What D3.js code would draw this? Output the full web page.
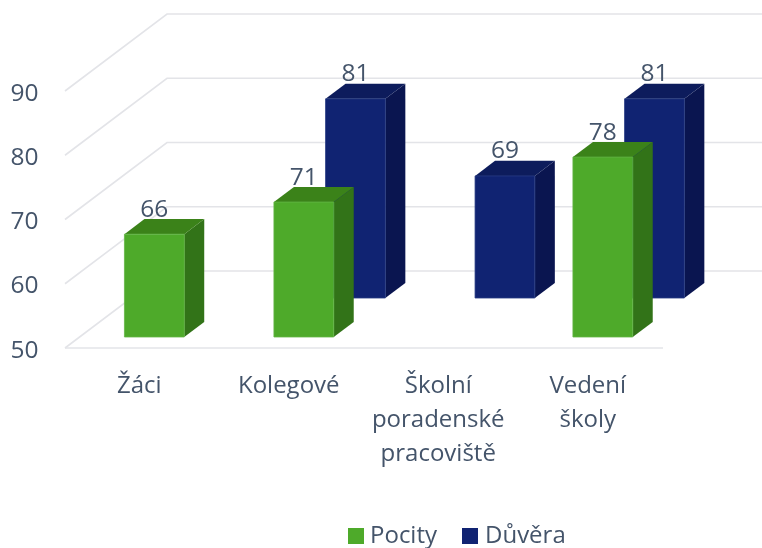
<!DOCTYPE html>
<html><head><meta charset="utf-8">
<style>html,body{margin:0;padding:0;background:#fff}svg{display:block;filter:blur(0.35px)}text{font-family:"Open Sans",sans-serif;fill:#44546a}</style>
<script src="https://cdn.jsdelivr.net/npm/d3@7/dist/d3.min.js"></script>
</head><body><svg id="c" width="762" height="548"></svg>
<script>
const categories = [["Žáci"],["Kolegové"],["Školní","poradenské","pracoviště"],["Vedení","školy"]];
const pocity = [66,71,null,78];
const duvera = [null,81,69,81];
const yTicks = [50,60,70,80,90];
const seriesNames = ["Pocity","Důvěra"];
const colors = {Pocity:{front:"#4eaa2a",top:"#3b8219",side:"#327318",edge:"#62b545"},Důvěra:{front:"#102372",top:"#0d1c5c",side:"#0a1550",edge:"#2a3d84"}};

const svg = d3.select("#c");
const x = d3.scaleBand().domain(d3.range(categories.length)).range([65,663]);
const y = d3.scaleLinear().domain([50,90]).range([348,91]);
const depthX = d3.scaleLinear().domain([0,1]).range([0,102]);
const depthY = d3.scaleLinear().domain([0,1]).range([0,-77]);
const P = (px,py,t)=>[px+depthX(t),py+depthY(t)];
const pts = a=>a.map(p=>p.join(",")).join(" ");

// walls
const grid = svg.append("g").attr("fill","none").attr("stroke","#e3e4e8").attr("stroke-width",1.6);
yTicks.forEach(v=>{
  const a=P(x.range()[0],y(v),0), b=P(x.range()[0],y(v),1), c=P(x.range()[1],y(v),1);
  grid.append("polyline").attr("points",pts([a,b,c]));
});
grid.append("line").attr("x1",x.range()[0]).attr("x2",x.range()[1]).attr("y1",y(50)).attr("y2",y(50));

// y labels
svg.append("g").selectAll("text").data(yTicks).join("text")
  .attr("x",38.5).attr("y",d=>y(d)+9.5).attr("text-anchor","end").attr("font-size",24.5).text(d=>d);

// bars: back series first
const bw = x.bandwidth()*0.4, inset = x.bandwidth()*0.3;
const series = [{name:"Důvěra",vals:duvera,t0:0.649},{name:"Pocity",vals:pocity,t0:0.143}];
const depth = 0.196;
const labels = [];
series.forEach(s=>{
  const col = colors[s.name], g = svg.append("g");
  s.vals.forEach((v,i)=>{
    if(v==null) return;
    const xl=x(i)+inset, xr=xl+bw, yb=y(50), yt=y(v);
    const a=P(xl,yt,s.t0), b=P(xr,yt,s.t0), c=P(xr,yb,s.t0), d=P(xl,yb,s.t0);
    const e=P(xl,yt,s.t0+depth), h=P(xr,yt,s.t0+depth), k=P(xr,yb,s.t0+depth);
    g.append("polygon").attr("points",pts([b,h,k,c])).attr("fill",col.side);
    g.append("polygon").attr("points",pts([a,e,h,b])).attr("fill",col.top);
    g.append("polygon").attr("points",pts([a,b,c,d])).attr("fill",col.front).attr("stroke",col.edge).attr("stroke-width",0.8);
    labels.push({v,x:(a[0]+b[0])/2,y:a[1]-17.5});
  });
});
svg.append("g").selectAll("text").data(labels).join("text")
  .attr("x",d=>d.x).attr("y",d=>d.y).attr("text-anchor","middle").attr("font-size",24.5).text(d=>d.v);

// category labels
const catG = svg.append("g");
categories.forEach((lines,i)=>{
  lines.forEach((l,j)=>{
    catG.append("text").attr("x",x(i)+x.bandwidth()/2-0.5).attr("y",393+j*34)
      .attr("text-anchor","middle").attr("font-size",24).text(l);
  });
});

// legend
const legend = [{n:seriesNames[0],sx:348,tx:370},{n:seriesNames[1],sx:462,tx:485}];
legend.forEach(l=>{
  svg.append("rect").attr("x",l.sx).attr("y",528).attr("width",16).attr("height",16).attr("fill",colors[l.n].front);
  svg.append("text").attr("x",l.tx).attr("y",542.5).attr("font-size",24).text(l.n);
});
</script></body></html>
